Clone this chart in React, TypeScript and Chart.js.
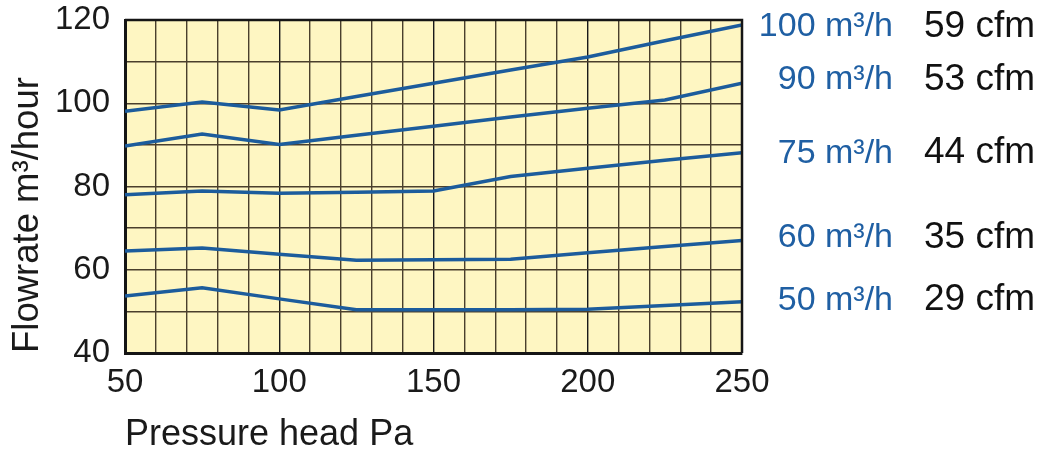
import React, { useEffect, useRef } from "react";
import { Chart, registerables } from "chart.js";

Chart.register(...registerables);

// Pressure head (Pa) sample points
const pressure = [50, 75, 100, 125, 150, 175, 200, 225, 250];

// Flowrate (m³/h) curves
const flow100 = [98.1, 100.3, 98.4, 101.6, 104.8, 108.0, 111.1, 115.0, 118.8];
const flow90 = [89.7, 92.6, 90.1, 92.3, 94.5, 96.7, 98.8, 100.8, 104.8];
const flow75 = [78.0, 78.9, 78.4, 78.6, 78.9, 82.4, 84.4, 86.3, 88.1];
const flow60 = [64.5, 65.2, 63.7, 62.3, 62.4, 62.5, 64.1, 65.6, 67.0];
const flow50 = [53.7, 55.7, 53.0, 50.4, 50.4, 50.4, 50.5, 51.4, 52.3];

const metricLabels = ["100 m³/h", "90 m³/h", "75 m³/h", "60 m³/h", "50 m³/h"];
const cfmLabels = ["59 cfm", "53 cfm", "44 cfm", "35 cfm", "29 cfm"];
const labelAnchors = [118.3, 105.6, 88.0, 67.6, 52.7];

const xTickLabels = [50, 100, 150, 200, 250];
const yTickLabels = [40, 60, 80, 100, 120];

const allSeries = [flow100, flow90, flow75, flow60, flow50];

const FONT = "'Liberation Sans', Arial, sans-serif";
const LINE = "#1c5c9c";

const frame = {
  id: "frame",
  beforeDraw(chart: any) {
    const { ctx, chartArea: a } = chart;
    ctx.save();
    ctx.fillStyle = "#fef6c2";
    ctx.fillRect(a.left, a.top, a.right - a.left, a.bottom - a.top);
    ctx.restore();
  },
  afterDraw(chart: any) {
    const { ctx, chartArea: a, scales } = chart;
    ctx.save();
    ctx.strokeStyle = "#151515";
    ctx.lineWidth = 2.5;
    ctx.beginPath();
    ctx.moveTo(a.left, a.top);
    ctx.lineTo(a.right, a.top);
    ctx.lineTo(a.right, a.bottom);
    ctx.stroke();
    ctx.textBaseline = "middle";
    metricLabels.forEach((t, i) => {
      const y = scales.y.getPixelForValue(labelAnchors[i]);
      ctx.font = `34px ${FONT}`;
      ctx.fillStyle = "#1f5fa3";
      ctx.textAlign = "right";
      ctx.fillText(t, a.right + 151, y);
      ctx.font = `37px ${FONT}`;
      ctx.fillStyle = "#111";
      ctx.textAlign = "left";
      ctx.fillText(cfmLabels[i], a.right + 182, y);
    });
    ctx.restore();
  },
};

export default function App() {
  const ref = useRef<HTMLCanvasElement>(null);
  useEffect(() => {
    if (!ref.current) return;
    const chart = new Chart(ref.current, {
      type: "line",
      data: {
        datasets: allSeries.map((s, i) => ({
          label: metricLabels[i],
          data: s.map((v, j) => ({ x: pressure[j], y: v })),
          borderColor: LINE,
          borderWidth: 3.5,
          pointRadius: 0,
          tension: 0,
          fill: false,
        })),
      },
      options: {
        animation: false,
        responsive: true,
        maintainAspectRatio: false,
        layout: { padding: { left: 0, right: 318, top: 20, bottom: 0 } },
        plugins: { legend: { display: false }, tooltip: { enabled: false } },
        scales: {
          x: {
            type: "linear",
            min: 50,
            max: 250,
            afterFit: (s: any) => {
              s.height = 100;
              s.paddingLeft = 0;
              s.paddingRight = 0;
            },
            ticks: {
              stepSize: 10,
              autoSkip: false,
              maxRotation: 0,
              padding: 10,
              color: "#1a1a1a",
              font: { family: FONT, size: 33 },
              callback: (v: any) => (xTickLabels.includes(Number(v)) ? String(v) : ""),
            },
            grid: {
              drawTicks: false,
              color: (c: any) => (c.tick && c.tick.value % 50 === 0 ? "#1a1a1a" : "#4a3f2c"),
              lineWidth: 1.4,
            },
            border: { color: "#151515", width: 3 },
            title: {
              display: true,
              text: "Pressure head Pa",
              align: "start",
              color: "#1a1a1a",
              font: { family: FONT, size: 36, lineHeight: 1 },
              padding: { top: 0, bottom: 0 },
            },
          },
          y: {
            min: 40,
            max: 120,
            afterFit: (s: any) => {
              s.width = 125;
              s.paddingTop = 0;
              s.paddingBottom = 0;
            },
            ticks: {
              stepSize: 10,
              autoSkip: false,
              padding: 15,
              color: "#1a1a1a",
              font: { family: FONT, size: 33 },
              callback: (v: any) => (yTickLabels.includes(Number(v)) ? String(v) : ""),
            },
            grid: { drawTicks: false, color: "#4a3f2c", lineWidth: 1.4 },
            border: { color: "#151515", width: 3 },
            title: {
              display: true,
              text: "Flowrate m³/hour",
              align: "start",
              color: "#1a1a1a",
              font: { family: FONT, size: 36.5, lineHeight: 1 },
              padding: { top: 10, bottom: 0 },
            },
          },
        },
      },
      plugins: [frame],
    });
    return () => chart.destroy();
  }, []);
  return (
    <div style={{ position: "fixed", left: 0, top: 0, width: 1060, height: 453, background: "#fff" }}>
      <canvas ref={ref} />
    </div>
  );
}
